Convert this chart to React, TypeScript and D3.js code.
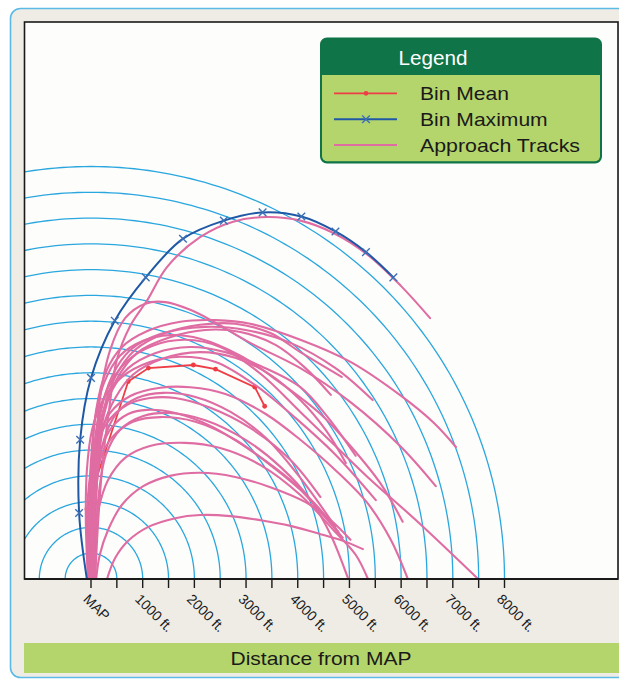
import React from 'react';
import * as d3 from 'd3';

// ---- axis ----
const tickValues = [0, 500, 1000, 1500, 2000, 2500, 3000, 3500, 4000, 4500, 5000, 5500, 6000, 6500, 7000, 7500, 8000];
const labelValues = [0, 1000, 2000, 3000, 4000, 5000, 6000, 7000, 8000];
const tickLabels = ['MAP', '1000 ft.', '2000 ft.', '3000 ft.', '4000 ft.', '5000 ft.', '6000 ft.', '7000 ft.', '8000 ft.'];
const ringRadii = [500, 1000, 1500, 2000, 2500, 3000, 3500, 4000, 4500, 5000, 5500, 6000, 6500, 7000, 7500, 8000];

// ---- bin statistics (ft from MAP) ----
const binMaxX = [-80, -230, -210, 0, 460, 1060, 1780, 2570, 3320, 4070, 4730, 5320, 5850];
const binMaxY = [0, 1280, 2700, 3900, 5010, 5850, 6600, 6950, 7110, 7030, 6740, 6340, 5850];
const binMeanX = [-40, -80, 20, 720, 1110, 1980, 2410, 3170, 3360];
const binMeanY = [0, 1360, 1690, 3830, 4090, 4150, 4070, 3720, 3350];

// ---- approach tracks [x ft, y ft] ----
const trackA = [[80,0],[140,1140],[230,2310],[350,3280],[500,4250],[760,4910],[1090,5410],[1470,6050],[2110,6630],[2750,6930],[3410,7020],[4050,6950],[4690,6710],[5350,6290],[6000,5680],[6560,5060]];
const trackB = [[20,0],[40,1140],[80,2310],[170,3470],[370,4440],[660,5060],[1050,5340],[1440,5370],[1920,5220],[2410,4970],[3080,4580],[4050,4090],[5020,3430],[6000,2560],[6670,1800]];
const trackC1 = [[-20,0],[-20,1140],[20,2310],[100,3280],[290,4020],[600,4500],[1090,4810],[1730,4990],[2410,5020],[3080,4950],[4050,4640],[5020,4210],[6000,3550],[6630,3030],[7060,2560]];
const trackC2 = [[40,0],[60,1140],[120,2310],[230,3220],[470,3920],[850,4440],[1440,4770],[2110,4930],[2790,4950],[3470,4770],[4050,4400],[4850,3920]];
const trackC3 = [[-40,0],[-40,1140],[0,2310],[80,3120],[250,3800],[560,4330],[1010,4620],[1530,4730],[2110,4660],[2890,4330],[3670,3800],[4440,3200],[5020,2580],[5610,1840],[6030,1110]];
const trackC4 = [[0,0],[0,1140],[40,2310],[140,3120],[330,3710],[680,4210],[1180,4520],[1820,4640],[2500,4500],[3280,3980],[4050,3240],[4730,2580],[5350,1980],[6320,1110],[7490,0]];
const trackC5 = [[20,0],[40,1140],[100,2310],[190,3080],[390,3630],[720,4090],[1240,4380],[1920,4500],[2600,4400],[3280,4130],[4050,3720],[4580,3140],[5120,2390]];
const trackC6 = [[60,0],[80,1140],[140,2210],[250,2990],[470,3510],[810,3960],[1380,4270],[2110,4400],[2790,4290],[3470,3960],[4050,3470],[4540,2890],[4930,2250]];
const trackD1 = [[-20,0],[-20,950],[20,1920],[140,2700],[370,3220],[760,3550],[1340,3710],[1920,3720],[2600,3590],[3380,3200],[4050,2700],[4730,2110],[5350,1470],[5800,760],[6130,0]];
const trackD2 = [[40,0],[60,950],[120,1920],[250,2700],[500,3220],[890,3510],[1400,3610],[2020,3530],[2700,3240],[3380,2740],[4050,1960],[4730,1010]];
const trackD3 = [[-20,0],[0,950],[60,1820],[190,2500],[410,2950],[720,3200],[1090,3280],[1630,3220],[2310,2970],[3080,2500],[3860,1920],[4350,1440],[4790,910]];
const trackD4 = [[80,0],[100,950],[160,1730],[290,2410],[560,2890],[1010,3160],[1530,3220],[2210,3080],[2990,2700],[3670,2170],[4250,1530],[4640,850],[4970,20]];
const trackD5 = [[20,0],[20,950],[80,1730],[190,2350],[430,2770],[810,3050],[1340,3140],[2020,3050],[2790,2700],[3470,2210],[4050,1730],[4440,1300],[4870,800]];
const trackL3 = [[20,0],[40,660],[140,1340],[330,1920],[660,2350],[1140,2580],[1820,2640],[2500,2540],[3280,2210],[4050,1630],[4690,950],[5120,470],[5350,20]];
const trackL2 = [[100,0],[170,470],[330,950],[600,1440],[1010,1800],[1530,2000],[2110,2060],[2790,1980],[3470,1780],[4150,1490],[4640,1140],[5020,760]];
const trackL1 = [[310,0],[470,410],[720,740],[1110,1010],[1630,1180],[2110,1240],[2700,1220],[3280,1140],[3860,1030],[4440,870],[4930,720],[5260,580]];
const trackF1 = [[60,0],[80,1140],[140,2310],[250,3180],[490,3860],[910,4400],[1530,4690],[2210,4830],[2890,4790],[3570,4540],[4150,4090],[4640,3570]];
const trackF2 = [[-60,0],[-100,1140],[-80,2110],[20,2890],[230,3470],[600,3920],[1140,4210],[1730,4310],[2410,4210],[3180,3760],[3960,3120],[4730,2410],[5510,1530]];
const trackF3 = [[-40,0],[-80,950],[-40,1820],[80,2500],[310,3030],[700,3380],[1140,3510],[1630,3510],[2310,3320],[3080,2930],[3860,2310],[4440,1590]];
const trackF4 = [[0,0],[20,1140],[80,2310],[190,3240],[410,3940],[760,4440],[1340,4750],[2210,4890],[2990,4830],[3860,4580],[4730,4090],[5450,3470]];

const tracks = [trackL1, trackL2, trackL3, trackD1, trackD2, trackD3, trackD4, trackD5, trackF3, trackF2, trackC6, trackC5, trackC4, trackC3, trackF1, trackF4, trackC2, trackC1, trackB, trackA];

const legendItems = ['Bin Mean', 'Bin Maximum', 'Approach Tracks'];

const FONT = 'Liberation Sans, Arial, Helvetica, sans-serif';
const C_RING = '#2ba7df';
const C_TRACK = '#df6ca2';
const C_MEAN = '#ee3d45';
const C_MAX = '#1f58a5';
const C_MARK = '#3b6fb6';
const C_DARK = '#0f7447';
const C_LIGHT = '#b4d56c';

export default function App() {
  const W = 619, H = 679;
  const pl = 24.5, pt = 22, pr = 618, pb = 579;
  const x = d3.scaleLinear().domain([0, 8000]).range([91, 504.5]);
  const y = d3.scaleLinear().domain([0, 8000]).range([579, 166.5]);

  const smooth = d3.line<number[]>().x(d => x(d[0])).y(d => y(d[1])).curve(d3.curveCatmullRom.alpha(0.5));
  const straight = d3.line<number[]>().x(d => x(d[0])).y(d => y(d[1]));
  const angles = d3.range(0, 181, 1).map(a => (a * Math.PI) / 180);
  const ring = (r: number) => straight(angles.map(t => [r * Math.cos(t), r * Math.sin(t)]));

  const maxPts = binMaxX.map((v, i) => [v, binMaxY[i]]);
  const meanPts = binMeanX.map((v, i) => [v, binMeanY[i]]);

  const legendRows = [93.3, 119.3, 145];

  return (
    <svg width={W} height={H} style={{ position: 'absolute', left: 0, top: 0 }} fontFamily={FONT}>
      <defs>
        <clipPath id="plotClip">
          <rect x={pl} y={pt} width={pr - pl} height={pb - pt} />
        </clipPath>
      </defs>
      <rect x={0} y={0} width={W} height={H} fill="#ffffff" />
      {/* outer frame */}
      <rect x={10.5} y={8.5} width={700} height={669} rx={10} fill="#efece6" stroke="#5cbbe6" strokeWidth={1.6} />
      {/* plot area */}
      <rect x={pl} y={pt} width={pr - pl} height={pb - pt} fill="#fdfdfb" />
      <g clipPath="url(#plotClip)">
        {ringRadii.map(r => (
          <path key={r} d={ring(r) || ''} fill="none" stroke={C_RING} strokeWidth={1.3} />
        ))}
        <path d={straight(meanPts) || ''} fill="none" stroke={C_MEAN} strokeWidth={1.8} />
        {meanPts.slice(1).map((p, i) => (
          <circle key={i} cx={x(p[0])} cy={y(p[1])} r={2.4} fill={C_MEAN} />
        ))}
        {tracks.map((t, i) => (
          <path key={i} d={smooth(t) || ''} fill="none" stroke={C_TRACK} strokeWidth={2.1} strokeLinecap="round" />
        ))}
        <path d={smooth(maxPts) || ''} fill="none" stroke={C_MAX} strokeWidth={2} />
        {maxPts.slice(1).map((p, i) => (
          <g key={i} transform={`translate(${x(p[0])},${y(p[1])})`} stroke={C_MARK} strokeWidth={1.4}>
            <line x1={-3.8} y1={-3.8} x2={3.8} y2={3.8} />
            <line x1={-3.8} y1={3.8} x2={3.8} y2={-3.8} />
          </g>
        ))}
      </g>
      {/* border */}
      <rect x={pl} y={pt} width={pr - pl} height={pb - pt} fill="none" stroke="#1a1a1a" strokeWidth={1.6} />
      <line x1={pl} x2={pr} y1={pb} y2={pb} stroke="#1a1a1a" strokeWidth={2} />
      {/* ticks */}
      {tickValues.map(v => (
        <line key={v} x1={x(v)} x2={x(v)} y1={pb} y2={pb + 9} stroke="#1a1a1a" strokeWidth={1.4} />
      ))}
      {labelValues.map((v, i) => (
        <text key={v} transform={`translate(${x(v) - 8.5},600) rotate(45)`} fontSize={14} fill="#1a1a1a">
          {tickLabels[i]}
        </text>
      ))}
      {/* bottom title bar */}
      <rect x={24} y={643} width={620} height={30} fill={C_LIGHT} />
      <text x={321} y={665} textAnchor="middle" fontSize={18.5} fill="#1a1a1a" textLength={181} lengthAdjust="spacingAndGlyphs">
        Distance from MAP
      </text>
      {/* legend */}
      <g>
        <rect x={321} y={38.5} width={280} height={124} rx={6} fill={C_DARK} />
        <rect x={322} y={75} width={278} height={86.5} rx={5} fill={C_LIGHT} />
        <rect x={322} y={75} width={278} height={10} fill={C_LIGHT} />
        <rect x={321} y={38.5} width={280} height={124} rx={6} fill="none" stroke={C_DARK} strokeWidth={2} />
        <text x={433} y={65} textAnchor="middle" fontSize={19.5} fill="#ffffff" textLength={69} lengthAdjust="spacingAndGlyphs">
          Legend
        </text>
        {/* Bin Mean */}
        <line x1={334} x2={397} y1={legendRows[0]} y2={legendRows[0]} stroke={C_MEAN} strokeWidth={1.8} />
        <circle cx={366} cy={legendRows[0]} r={2.4} fill={C_MEAN} />
        {/* Bin Maximum */}
        <line x1={334} x2={397} y1={legendRows[1]} y2={legendRows[1]} stroke={C_MAX} strokeWidth={2} />
        <g transform={`translate(366,${legendRows[1]})`} stroke={C_MARK} strokeWidth={1.4}>
          <line x1={-3.8} y1={-3.8} x2={3.8} y2={3.8} />
          <line x1={-3.8} y1={3.8} x2={3.8} y2={-3.8} />
        </g>
        {/* Approach Tracks */}
        <line x1={334} x2={397} y1={legendRows[2]} y2={legendRows[2]} stroke={C_TRACK} strokeWidth={2.1} />
        {legendItems.map((t, i) => (
          <text key={t} x={420} y={legendRows[i] + 6.7} fontSize={18.5} fill="#1a1a1a"
            textLength={[89, 127.7, 160][i]} lengthAdjust="spacingAndGlyphs">
            {t}
          </text>
        ))}
      </g>
    </svg>
  );
}
